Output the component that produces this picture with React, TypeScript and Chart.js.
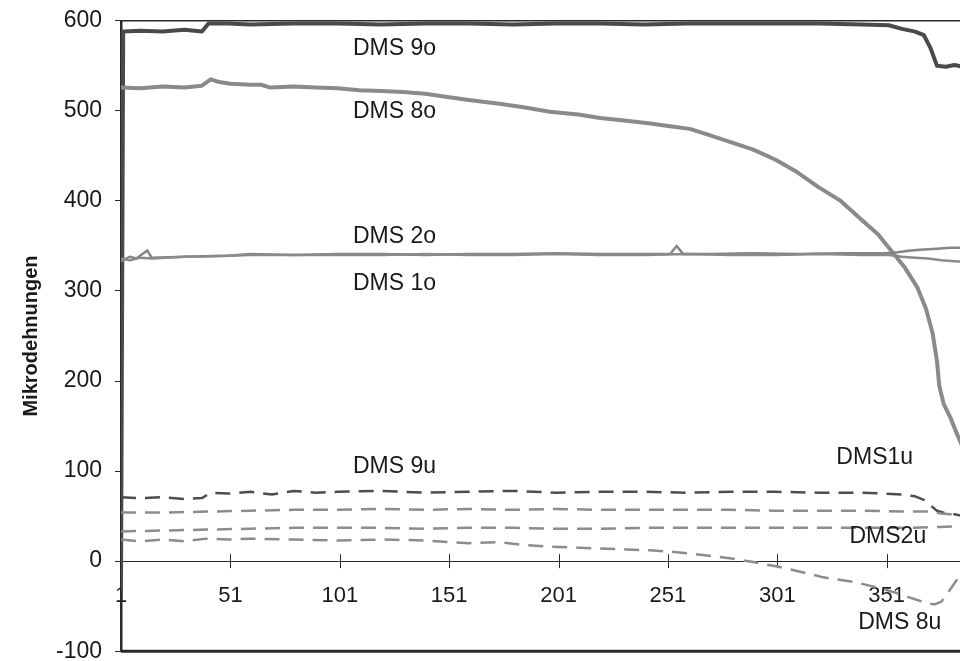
import { useEffect, useRef } from "react";
import { Chart, registerables } from "chart.js";

Chart.register(...registerables);

const xTickValues = [1, 51, 101, 151, 201, 251, 301, 351];
const yMin = -100;
const yMax = 600;
const xMin = 1;
const xMax = 390;

const dms9oX = [1, 2, 10, 20, 30, 38, 41, 50, 60, 80, 100, 120, 140, 160, 180, 200, 220, 240, 260, 280, 300, 320, 340, 352, 358, 364, 368, 371, 374, 378, 382, 386, 390];
const dms9oY = [-30, 588, 589, 588, 590, 588, 597, 597, 596, 597, 597, 596, 597, 597, 596, 597, 597, 596, 597, 597, 597, 597, 596, 595, 591, 588, 584, 570, 550, 549, 551, 549, 550];

const dms8oX = [1, 10, 20, 30, 38, 42, 46, 51, 60, 65, 69, 80, 90, 100, 110, 120, 130, 140, 151, 160, 174, 185, 197, 210, 220, 232, 243, 252, 261, 270, 280, 290, 300, 310, 320, 330, 340, 347, 353, 359, 365, 369, 372, 374, 375, 377, 380, 383, 386, 390];
const dms8oY = [526, 525, 527, 526, 528, 535, 532, 530, 529, 529, 526, 527, 526, 525, 523, 522, 521, 519, 515, 512, 508, 504, 499, 496, 492, 489, 486, 483, 480, 473, 465, 457, 446, 432, 415, 400, 378, 363, 345, 327, 304, 280, 253, 222, 195, 175, 160, 142, 125, 105];

const dms2oX = [1, 5, 8, 13, 15, 30, 50, 60, 80, 100, 120, 140, 160, 180, 200, 220, 240, 252, 255, 258, 270, 290, 310, 330, 350, 356, 362, 368, 374, 380, 386, 390];
const dms2oY = [333, 338, 336, 345, 337, 338, 339, 341, 340, 341, 341, 340, 341, 341, 342, 341, 341, 341, 350, 341, 341, 342, 341, 342, 342, 343, 345, 346, 347, 348, 348, 348];

const dms1oX = [1, 5, 10, 15, 30, 50, 60, 80, 100, 120, 140, 160, 180, 200, 220, 240, 260, 280, 300, 320, 340, 352, 358, 364, 370, 376, 382, 390];
const dms1oY = [336, 334, 337, 336, 338, 339, 340, 340, 340, 340, 341, 340, 340, 341, 340, 340, 341, 340, 340, 341, 340, 340, 338, 337, 336, 334, 333, 332];

const dms9uX = [1, 10, 20, 30, 38, 42, 50, 60, 70, 80, 90, 100, 120, 140, 160, 180, 200, 220, 240, 260, 280, 300, 320, 340, 350, 358, 364, 368, 371, 374, 378, 382, 386, 390];
const dms9uY = [71, 70, 71, 69, 70, 76, 75, 77, 74, 78, 76, 77, 78, 76, 77, 78, 76, 77, 77, 76, 77, 77, 76, 76, 75, 74, 72, 68, 62, 56, 53, 52, 50, 49];

const dms1uX = [1, 20, 40, 60, 80, 100, 120, 140, 160, 180, 200, 220, 240, 260, 280, 300, 320, 340, 360, 370, 376, 380, 386, 390];
const dms1uY = [54, 54, 55, 56, 57, 57, 58, 57, 58, 57, 58, 57, 57, 57, 57, 56, 56, 56, 55, 55, 53, 52, 50, 49];

const dms2uX = [1, 20, 40, 60, 80, 100, 120, 140, 160, 180, 200, 220, 240, 260, 280, 300, 320, 340, 360, 375, 385, 390];
const dms2uY = [33, 34, 35, 36, 37, 37, 37, 36, 37, 37, 36, 36, 37, 37, 37, 37, 37, 37, 37, 38, 39, 40];

const dms8uX = [1, 10, 20, 30, 40, 50, 60, 80, 100, 120, 140, 151, 160, 174, 185, 197, 210, 220, 232, 243, 255, 266, 280, 290, 301, 312, 322, 336, 348, 355, 361, 366, 370, 373, 376, 379, 381, 383, 386, 390];
const dms8uY = [24, 22, 24, 22, 25, 24, 25, 24, 23, 24, 23, 21, 20, 21, 18, 16, 15, 14, 13, 12, 10, 7, 3, -1, -6, -12, -18, -23, -30, -35, -40, -44, -47, -48, -45, -35, -28, -21, -10, 0];

const labelTexts = ["DMS 9o", "DMS 8o", "DMS 2o", "DMS 1o", "DMS 9u", "DMS1u", "DMS2u", "DMS 8u"];
const labelX = [107, 107, 107, 107, 107, 328, 334, 338];
const labelY = [569, 499, 360, 308, 105, 115, 27, -68];

const FONT = "'Liberation Sans', Arial, sans-serif";
const TEXT = "#1a1a1a";
const AXIS = "#2a2a2a";

const pts = (xs: number[], ys: number[]) => xs.map((x, i) => ({ x, y: ys[i] }));

const annotationPlugin = {
  id: "annotations",
  afterDatasetsDraw(chart: any) {
    const { ctx, scales } = chart;
    ctx.save();
    ctx.font = `23px ${FONT}`;
    ctx.fillStyle = TEXT;
    ctx.textAlign = "left";
    ctx.textBaseline = "middle";
    labelTexts.forEach((t, i) => {
      ctx.fillText(t, scales.x.getPixelForValue(labelX[i]), scales.y.getPixelForValue(labelY[i]));
    });
    ctx.restore();
  },
};

const framePlugin = {
  id: "frame",
  beforeDatasetsDraw(chart: any) {
    const { ctx, chartArea, scales } = chart;
    ctx.save();
    ctx.strokeStyle = AXIS;
    ctx.lineWidth = 1.5;
    ctx.beginPath();
    ctx.moveTo(chartArea.left, chartArea.top);
    ctx.lineTo(chartArea.right, chartArea.top);
    ctx.stroke();
    ctx.lineWidth = 3;
    ctx.beginPath();
    ctx.moveTo(chartArea.left, chartArea.bottom);
    ctx.lineTo(chartArea.right, chartArea.bottom);
    ctx.stroke();
    const y0 = scales.y.getPixelForValue(0);
    ctx.lineWidth = 1;
    xTickValues.forEach((v) => {
      const px = Math.round(scales.x.getPixelForValue(v)) + 0.5;
      ctx.beginPath();
      ctx.moveTo(px, y0 - 7);
      ctx.lineTo(px, y0 + 7);
      ctx.stroke();
    });
    ctx.restore();
  },
};

export default function App() {
  const ref = useRef<HTMLCanvasElement | null>(null);

  useEffect(() => {
    if (!ref.current) return;
    const solid = (label: string, xs: number[], ys: number[], color: string, w: number) => ({
      label,
      data: pts(xs, ys),
      borderColor: color,
      borderWidth: w,
      pointRadius: 0,
      tension: 0,
      borderJoinStyle: "round" as const,
      borderCapStyle: "round" as const,
    });
    const dashed = (label: string, xs: number[], ys: number[], color: string, w: number) => ({
      ...solid(label, xs, ys, color, w),
      borderDash: [15, 9],
      borderCapStyle: "butt" as const,
    });
    const chart = new Chart(ref.current, {
      type: "line",
      data: {
        datasets: [
          dashed("DMS 8u", dms8uX, dms8uY, "#8c8c8c", 2.5),
          dashed("DMS2u", dms2uX, dms2uY, "#8c8c8c", 2.5),
          dashed("DMS1u", dms1uX, dms1uY, "#8c8c8c", 2.5),
          dashed("DMS 9u", dms9uX, dms9uY, "#4d4d4d", 2.5),
          solid("DMS 1o", dms1oX, dms1oY, "#8a8a8a", 2.5),
          solid("DMS 2o", dms2oX, dms2oY, "#858585", 2.5),
          solid("DMS 8o", dms8oX, dms8oY, "#8a8a8a", 4),
          solid("DMS 9o", dms9oX, dms9oY, "#4a4a4a", 4),
        ],
      },
      options: {
        animation: false,
        responsive: false,
        devicePixelRatio: 1,
        layout: { padding: { left: 0, top: 0, right: 8, bottom: 0 } },
        plugins: { legend: { display: false }, tooltip: { enabled: false } },
        scales: {
          x: {
            type: "linear",
            min: xMin,
            max: xMax,
            position: { y: 0 } as any,
            afterBuildTicks: (s: any) => {
              s.ticks = xTickValues.map((v) => ({ value: v }));
            },
            grid: { display: true, drawOnChartArea: false, drawTicks: false },
            border: { display: true, color: AXIS, width: 1 },
            ticks: {
              autoSkip: false,
              maxRotation: 0,
              padding: 22,
              color: TEXT,
              font: { family: FONT, size: 22 },
              callback: (v: any) => String(v),
            },
          },
          y: {
            min: yMin,
            max: yMax,
            afterFit: (s: any) => {
              s.width = 121;
            },
            ticks: {
              stepSize: 100,
              padding: 13,
              color: TEXT,
              font: { family: FONT, size: 23 },
            },
            grid: { drawOnChartArea: false, tickLength: 6, color: AXIS },
            border: { color: AXIS, width: 2.5 },
            title: {
              display: true,
              text: "Mikrodehnungen",
              color: TEXT,
              font: { family: FONT, size: 20, weight: "bold" },
              padding: { top: 19, bottom: 0 },
            },
          },
        },
      },
      plugins: [framePlugin, annotationPlugin],
    });
    return () => chart.destroy();
  }, []);

  return (
    <div style={{ position: "absolute", left: 0, top: 0, width: 960, height: 661, overflow: "hidden", background: "#fff" }}>
      <canvas ref={ref} width={980} height={684} style={{ display: "block", marginTop: -6 }} />
    </div>
  );
}
